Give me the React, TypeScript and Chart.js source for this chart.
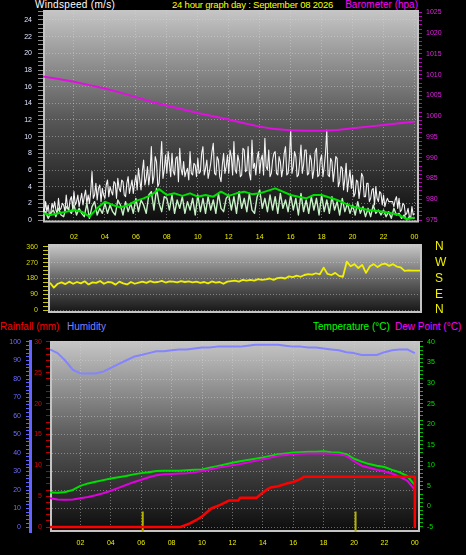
import React, { useEffect, useRef } from "react";
import { Chart, registerables } from "chart.js";

Chart.register(...registerables);

const FONT = "'Liberation Sans', Arial, sans-serif";

// ---------- X axis (hours of the day) ----------
const hourTicks = [2, 4, 6, 8, 10, 12, 14, 16, 18, 20, 22, 24];
const hourLabels = ["02", "04", "06", "08", "10", "12", "14", "16", "18", "20", "22", "00"];

// ---------- Wind gust (m/s), 5-minute samples from 00:00 ----------
const gustSampleHours = 1 / 12;
const windGust = [
  1.4, 0.8, 2.2, 1.0, 1.8, 0.6, 0.8, 2.0, 1.4, 2.2, 1.2, 0.8,
  2.6, 1.2, 1.4, 2.0, 1.8, 1.0, 3.0, 1.6, 1.2, 2.4, 2.8, 1.4,
  3.4, 1.8, 2.2, 3.0, 1.6, 2.4, 3.2, 1.8, 2.8, 3.6, 2.0, 3.0,
  2.0, 3.4, 5.8, 2.6, 3.0, 4.4, 2.4, 3.8, 4.2, 2.2, 3.8, 3.0,
  2.6, 4.2, 4.8, 2.8, 4.0, 3.4, 3.0, 4.6, 4.4, 2.6, 5.0, 3.8,
  3.4, 4.8, 4.6, 3.0, 2.8, 4.4, 5.2, 3.2, 4.0, 4.8, 3.2, 4.4,
  5.4, 3.6, 6.2, 4.8, 3.6, 5.8, 7.2, 4.2, 5.0, 6.4, 4.2, 5.6,
  8.8, 4.4, 5.2, 7.6, 7.0, 4.0, 4.4, 6.8, 9.4, 5.0, 6.0, 7.8,
  5.6, 8.2, 6.8, 5.2, 8.0, 5.8, 5.4, 7.4, 7.6, 4.6, 8.6, 6.2,
  5.4, 7.0, 5.2, 5.8, 6.2, 4.8, 8.2, 5.6, 5.4, 6.8, 6.6, 5.2,
  7.4, 5.6, 5.8, 8.0, 8.8, 5.4, 6.2, 7.2, 5.0, 5.8, 6.8, 8.2,
  9.2, 5.6, 5.4, 7.6, 7.2, 5.2, 4.6, 6.6, 8.0, 5.6, 6.4, 7.8,
  5.6, 8.4, 7.6, 5.4, 9.4, 6.0, 5.6, 7.8, 7.0, 5.2, 5.4, 8.6,
  8.4, 5.8, 6.0, 8.8, 5.6, 4.8, 9.6, 6.2, 6.8, 5.4, 7.4, 8.2,
  5.6, 7.2, 7.8, 5.4, 9.8, 6.4, 6.0, 8.4, 5.2, 5.6, 7.2, 8.0,
  8.2, 5.6, 5.4, 7.6, 7.0, 5.2, 6.2, 8.0, 8.8, 5.4, 5.6, 7.4,
  10.8, 5.6, 6.4, 8.2, 7.6, 5.2, 5.4, 7.0, 9.0, 5.6, 6.6, 8.4,
  8.4, 5.4, 5.6, 7.8, 7.2, 5.0, 6.0, 8.2, 8.6, 5.2, 5.4, 7.2,
  7.8, 5.2, 6.4, 8.0, 10.8, 5.4, 5.2, 7.4, 7.0, 4.6, 6.0, 7.6,
  7.4, 4.0, 4.6, 6.4, 6.2, 3.6, 5.0, 6.8, 3.4, 4.8, 6.0, 3.8,
  5.4, 2.8, 3.2, 4.8, 4.6, 2.6, 3.8, 5.6, 5.2, 2.8, 2.8, 4.4,
  4.4, 2.2, 2.6, 3.6, 3.8, 1.8, 4.0, 2.6, 2.2, 3.4, 3.2, 1.8,
  3.0, 1.6, 2.2, 2.6, 2.2, 2.2, 2.2, 2.2, 1.6, 2.4, 2.8, 1.4,
  2.6, 1.0, 1.2, 2.0, 1.8, 0.6, 0.8, 1.4, 0.4, 0.2, 1.6, 0.6,
  0.8,
];

// ---------- Wind speed (m/s), 10-minute samples ----------
const speedSampleHours = 1 / 6;
const windSpeed = [
  0.6, 1.0, 0.2, 0.8, 1.2, 0.4,
  1.4, 0.6, 0.4, 1.6, 1.2, 0.8,
  1.8, 0.6, 1.4, 0.8, 0.4, 2.0,
  0.2, 1.6, 2.2, 0.6, 1.4, 0.8,
  2.0, 0.8, 1.8, 1.0, 0.6, 2.4,
  1.8, 0.6, 2.2, 1.0, 2.0, 0.8,
  2.6, 1.0, 2.4, 1.8, 0.8, 3.0,
  3.4, 1.2, 3.8, 2.0, 1.0, 2.8,
  2.6, 1.2, 3.0, 0.8, 2.4, 1.4,
  2.8, 0.8, 2.2, 1.2, 2.6, 0.6,
  3.0, 1.0, 2.6, 0.8, 2.8, 1.2,
  2.4, 0.8, 3.2, 1.4, 1.0, 2.6,
  3.0, 1.2, 2.8, 0.8, 3.4, 1.4,
  2.6, 1.0, 3.2, 1.2, 0.8, 2.8,
  3.6, 1.4, 2.6, 1.0, 3.0, 1.2,
  2.8, 0.8, 3.2, 1.4, 2.4, 1.0,
  3.0, 1.2, 2.6, 0.6, 3.2, 1.0,
  2.4, 0.8, 2.8, 1.2, 2.6, 0.6,
  3.0, 1.0, 2.4, 0.8, 2.8, 1.2,
  2.2, 0.6, 2.6, 1.0, 2.0, 0.8,
  1.8, 0.6, 2.2, 0.8, 1.6, 0.4,
  1.4, 0.4, 1.8, 0.8, 1.2, 0.6,
  1.2, 0.4, 1.0, 0.2, 1.4, 0.6,
  0.8, 0.2, 0.6, 0.0, 0.4, 0.2,
  0.2,
];
// 30-minute average wind
const windAvgSampleHours = 0.5;
const windAvg = [
  0.8, 0.6, 0.8, 1.0, 1.2, 1.0, 0.4, 1.4, 2.2, 1.8, 1.5, 1.8,
  2.3, 2.6, 3.0, 3.7, 3.0, 3.2, 2.9, 3.2, 2.8, 3.0, 2.8, 3.4,
  2.9, 3.2, 3.4, 3.1, 3.2, 3.5, 3.8, 3.4, 3.0, 2.8, 2.6, 3.0,
  3.0, 2.7, 2.4, 2.0, 1.6, 1.4, 1.2, 1.1, 1.0, 0.8, 0.6, 0.1,
  0.3,
];

// ---------- Barometer (hPa), hourly ----------
const baroSampleHours = 1;
const barometer = [
  1009.6, 1009.0, 1008.3, 1007.5, 1006.7, 1005.7, 1004.6, 1003.5, 1002.6,
  1001.7, 1000.8, 1000.0, 999.2, 998.3, 997.5, 996.9, 996.6, 996.5, 996.5,
  996.7, 997.1, 997.5, 997.9, 998.3, 998.7,
];

// ---------- Wind direction (degrees), 15-minute samples ----------
const dirSampleHours = 0.25;
const windDirection = [
  156, 128, 150, 158, 148, 162, 150, 160, 152, 164, 146, 158,
  155, 166, 150, 160, 158, 145, 162, 152, 146, 160, 150, 156,
  162, 155, 165, 158, 160, 166, 157, 163, 162, 158, 165, 160,
  164, 158, 162, 155, 160, 152, 163, 157, 160, 150, 162, 165,
  168, 162, 172, 168, 172, 168, 176, 172, 175, 180, 172, 182,
  185, 180, 192, 188, 196, 190, 200, 205, 202, 210, 204, 242,
  206, 200, 212, 195, 190, 276, 250, 262, 240, 258, 212, 250,
  262, 245, 260, 265, 252, 262, 248, 244, 223, 226, 225, 225,
  225,
];
const compassLabels = ["N", "E", "S", "W", "N"];

// ---------- Temperature / dew point (°C), humidity (%), half-hourly ----------
const climateSampleHours = 0.5;
const temperature = [
  3.4, 3.3, 3.5, 4.0, 5.0, 5.6, 6.0, 6.4, 6.8, 7.1, 7.4, 7.8,
  8.1, 8.3, 8.6, 8.7, 8.7, 8.7, 8.8, 8.9, 9.0, 9.4, 9.8, 10.2,
  10.6, 11.0, 11.3, 11.6, 11.9, 12.3, 12.7, 12.9, 13.1, 13.2, 13.3, 13.3,
  13.4, 13.2, 13.1, 12.7, 11.6, 10.9, 10.3, 9.9, 9.6, 8.9, 8.3, 7.4,
  5.2,
];
const dewPoint = [
  2.0, 1.7, 1.6, 1.7, 2.0, 2.3, 2.7, 3.2, 3.8, 4.5, 5.2, 5.9,
  6.5, 7.1, 7.6, 7.8, 7.9, 8.0, 8.1, 8.3, 8.6, 9.0, 9.4, 9.7,
  10.0, 10.3, 10.7, 11.1, 11.5, 11.9, 12.3, 12.5, 12.7, 12.8, 12.9, 12.9,
  12.9, 12.8, 12.7, 12.3, 11.0, 9.9, 9.4, 8.9, 8.5, 8.0, 7.2, 6.3,
  4.0,
];
const humidity = [
  96, 94, 90, 85, 83, 83, 83, 84, 86, 88, 90, 92,
  93, 94, 95, 95, 95.5, 96, 96, 96.5, 97, 97, 97.5, 97.5,
  97.5, 97.5, 98, 98.5, 98.5, 98.5, 98.5, 98, 97.5, 97.5, 97, 97,
  96.5, 96, 95.5, 94.5, 94, 93, 93, 93, 94.5, 95.5, 96, 96,
  94,
];

// ---------- Rainfall (mm), accumulated ----------
const rainHours = [0, 8.6, 9.2, 9.6, 10.0, 10.6, 11.2, 11.8, 12.4, 12.5, 13.6, 14.0, 14.3, 14.5, 15.0, 15.5, 16.0, 16.3, 16.5, 16.7, 24, 24];
const rainfall = [0, 0, 0.6, 1.1, 1.7, 3.0, 3.6, 4.3, 4.3, 4.75, 4.75, 5.6, 6.1, 6.4, 6.6, 7.0, 7.3, 7.6, 7.8, 8.15, 8.15, 0];

// markers along the time axis (hours), height on the rain axis (mm)
const markerHours = [6.1, 20.1];
const markerHeight = 2.5;

// ---------- helpers ----------
const series = (vals: number[], step: number) => vals.map((y, i) => ({ x: i * step, y }));
const pairs = (xs: number[], ys: number[]) => xs.map((x, i) => ({ x, y: ys[i] }));
const isMult = (v: number, m: number) => Math.abs(v / m - Math.round(v / m)) < 1e-6;
const DOT = "rgba(215,215,215,0.45)";

function zeroPad(s: any) {
  s.paddingTop = 0;
  s.paddingBottom = 0;
  s.paddingLeft = 0;
  s.paddingRight = 0;
}

type AxisSpec = {
  position: "left" | "right";
  min: number;
  max: number;
  from: number;
  to: number;
  step: number;
  labelEvery: number;
  width: number;
  color: string;
  tickColor: string;
  tickLength: number;
  padding: number;
  grid?: string;
  gridEvery?: number;
  weight?: number;
  border?: { color: string; width: number };
  labelFn?: (v: number) => string;
  fontSize?: number;
  drawTicks?: boolean;
};

function yAxis(a: AxisSpec): any {
  return {
    type: "linear",
    position: a.position,
    min: a.min,
    max: a.max,
    weight: a.weight ?? 0,
    afterBuildTicks: (s: any) => {
      const t: any[] = [];
      for (let k = 0; a.from + k * a.step <= a.to + 1e-9; k++) {
        t.push({ value: +(a.from + k * a.step).toFixed(4) });
      }
      s.ticks = t;
    },
    afterFit: (s: any) => {
      s.width = a.width;
      zeroPad(s);
    },
    ticks: {
      autoSkip: false,
      color: a.color,
      padding: a.padding,
      font: { family: FONT, size: a.fontSize ?? 7 },
      callback: (v: number) =>
        isMult(v, a.labelEvery) ? (a.labelFn ? a.labelFn(v) : String(v)) : "",
    },
    grid: {
      drawOnChartArea: !!a.grid,
      drawTicks: a.drawTicks ?? true,
      tickLength: a.tickLength,
      tickColor: a.tickColor,
      tickWidth: 1,
      lineWidth: 1,
      color: (c: any) =>
        a.grid && c.tick && isMult(c.tick.value, a.gridEvery ?? a.labelEvery) ? a.grid : "rgba(0,0,0,0)",
    },
    border: a.border
      ? { display: true, color: a.border.color, width: a.border.width, dash: [1, 2] }
      : { display: false, dash: [1, 2] },
  };
}

function xAxis(min: number, max: number, height: number, pad: number, display = true): any {
  return {
    type: "linear",
    position: "bottom",
    display,
    min,
    max,
    afterBuildTicks: (s: any) => {
      s.ticks = hourTicks.map((v) => ({ value: v }));
    },
    afterFit: (s: any) => {
      s.height = height;
      zeroPad(s);
    },
    ticks: {
      autoSkip: false,
      maxRotation: 0,
      minRotation: 0,
      color: "#ecec00",
      padding: pad,
      font: { family: FONT, size: 7 },
      callback: (v: number) => {
        const i = hourTicks.indexOf(v);
        return i >= 0 ? hourLabels[i] : "";
      },
    },
    grid: { drawTicks: false, lineWidth: 1, color: DOT },
    border: { display: false, dash: [1, 2] },
  };
}

const panelBg = {
  id: "panelBg",
  beforeDraw(chart: any, _args: any, opts: any) {
    const { ctx, chartArea: a } = chart;
    const g = ctx.createLinearGradient(0, a.top, 0, a.bottom);
    (opts.stops as [number, string][]).forEach(([p, c]) => g.addColorStop(p, c));
    ctx.save();
    ctx.fillStyle = g;
    ctx.fillRect(a.left, a.top, a.right - a.left, a.bottom - a.top);
    ctx.restore();
  },
  beforeDatasetsDraw(chart: any, _args: any, opts: any) {
    const { ctx, chartArea: a } = chart;
    ctx.save();
    ctx.strokeStyle = opts.frame;
    ctx.lineWidth = 2;
    ctx.beginPath();
    ctx.moveTo(a.left + 1, a.top);
    ctx.lineTo(a.left + 1, a.bottom - 1);
    ctx.lineTo(a.right - 1, a.bottom - 1);
    ctx.lineTo(a.right - 1, a.top);
    ctx.stroke();
    ctx.restore();
  },
};

const BG_STOPS = [
  [0, "#c6c6c6"],
  [0.5, "#5a5a5a"],
  [1, "#0c0c0c"],
];

function baseOptions(padding: any, scales: any, stops = BG_STOPS): any {
  return {
    animation: false,
    responsive: false,
    maintainAspectRatio: false,
    devicePixelRatio: 1,
    events: [],
    layout: { padding },
    elements: { point: { radius: 0, hoverRadius: 0 }, line: { tension: 0, borderJoinStyle: "round" } },
    plugins: {
      legend: { display: false },
      tooltip: { enabled: false },
      panelBg: { stops, frame: "#c4c4c4" },
    },
    scales,
  };
}

function windConfig(): any {
  return {
    type: "line",
    data: {
      datasets: [
        { data: series(barometer, baroSampleHours), yAxisID: "baro", borderColor: "#e010e0", borderWidth: 2, order: 0 },
        { data: series(windAvg, windAvgSampleHours), yAxisID: "wind", borderColor: "#00e000", borderWidth: 2, order: 1 },
        { data: series(windSpeed, speedSampleHours), yAxisID: "wind", borderColor: "#c6f2c6", borderWidth: 1.4, order: 2 },
        { data: series(windGust, gustSampleHours), yAxisID: "wind", borderColor: "#f4f4f4", borderWidth: 1.1, order: 3 },
      ],
    },
    options: baseOptions({ top: 10, left: 0, right: 0, bottom: 0 }, {
      x: xAxis(0, 24.29, 22.5, 10),
      wind: yAxis({
        position: "left", min: -0.3, max: 25.2, from: 0, to: 25, step: 0.5, labelEvery: 2,
        width: 43, color: "#dfe6ff", tickColor: "#8c8c8c", tickLength: 5, padding: 6, grid: DOT, gridEvery: 2,
      }),
      baro: yAxis({
        position: "right", min: 974.4, max: 1025.6, from: 975, to: 1025, step: 1, labelEvery: 5,
        width: 47, color: "#e020e0", tickColor: "#c000c0", tickLength: 3, padding: 4,
      }),
    }),
    plugins: [panelBg],
  };
}

function directionConfig(): any {
  return {
    type: "line",
    data: {
      datasets: [
        { data: series(windDirection, dirSampleHours), yAxisID: "dir", borderColor: "#f0f000", borderWidth: 1.8 },
      ],
    },
    options: baseOptions({ top: 6, left: 0, right: 0, bottom: 5 }, {
      x: xAxis(-0.13, 24.13, 0, 0, false),
      dir: yAxis({
        position: "left", min: -17, max: 377, from: 0, to: 360, step: 22.5, labelEvery: 90,
        width: 48, color: "#d8d800", tickColor: "#c8c800", tickLength: 5, padding: 5, grid: DOT, gridEvery: 90,
      }),
      compass: yAxis({
        position: "right", min: -17, max: 377, from: 0, to: 360, step: 90, labelEvery: 90,
        width: 44, color: "#f0f000", tickColor: "rgba(0,0,0,0)", tickLength: 0, padding: 13,
        fontSize: 12, drawTicks: false, labelFn: (v) => compassLabels[Math.round(v / 90)],
      }),
    }, [[0, "#cacaca"], [0.5, "#666666"], [1, "#141414"]]),
    plugins: [panelBg],
  };
}

function climateConfig(): any {
  const rainMin = -0.81;
  const markerData = markerHours.flatMap((h) => [
    { x: h, y: rainMin },
    { x: h, y: markerHeight },
    { x: h, y: null },
  ]);
  return {
    type: "line",
    data: {
      datasets: [
        { data: pairs(rainHours, rainfall), yAxisID: "rain", borderColor: "#ff0000", borderWidth: 2.5, order: 0 },
        { data: series(dewPoint, climateSampleHours), yAxisID: "temp", borderColor: "#e000e0", borderWidth: 2, order: 1 },
        { data: series(temperature, climateSampleHours), yAxisID: "temp", borderColor: "#00e000", borderWidth: 2, order: 2 },
        { data: series(humidity, climateSampleHours), yAxisID: "hum", borderColor: "#8484ff", borderWidth: 2, order: 3 },
        { data: markerData, yAxisID: "rain", borderColor: "#b4b400", borderWidth: 2, order: 4 },
      ],
    },
    options: baseOptions({ top: 6, left: 0, right: 0, bottom: 0 }, {
      x: xAxis(0, 24.34, 23, 6.5),
      hum: yAxis({
        position: "left", weight: 1, min: -2.7, max: 100.54, from: 0, to: 100, step: 2, labelEvery: 10,
        width: 30, color: "#6c6cff", tickColor: "#6060ff", tickLength: 4, padding: 5, grid: DOT, gridEvery: 10,
        border: { color: "#6464ff", width: 3 },
      }),
      rain: yAxis({
        position: "left", weight: 0, min: rainMin, max: 30.16, from: 0, to: 30, step: 1, labelEvery: 5,
        width: 20, color: "#e00000", tickColor: "#c00000", tickLength: 4, padding: 4,
      }),
      temp: yAxis({
        position: "right", min: -6.22, max: 40.24, from: -5, to: 40, step: 1, labelEvery: 5,
        width: 46, color: "#00e000", tickColor: "#00c000", tickLength: 3, padding: 4,
      }),
    }),
    plugins: [panelBg],
  };
}

function Panel({ top, height, build }: { top: number; height: number; build: () => any }) {
  const ref = useRef<HTMLCanvasElement>(null);
  useEffect(() => {
    const chart = new Chart(ref.current as HTMLCanvasElement, build());
    return () => chart.destroy();
  }, []);
  return (
    <canvas
      ref={ref}
      width={466}
      height={height}
      style={{ position: "absolute", left: 0, top, width: 466, height, display: "block" }}
    />
  );
}

const textBase: React.CSSProperties = {
  position: "absolute",
  fontFamily: FONT,
  fontSize: 10,
  lineHeight: "10px",
  whiteSpace: "nowrap",
};

export default function App() {
  useEffect(() => {
    document.body.style.margin = "0";
    document.body.style.background = "#000";
  }, []);
  return (
    <div style={{ position: "relative", width: 466, height: 555, background: "#000", overflow: "hidden" }}>
      <span style={{ ...textBase, left: 35, top: 0, color: "#ffffff", letterSpacing: 0.3 }}>Windspeed (m/s)</span>
      <span style={{ ...textBase, left: 172, top: 0, color: "#ffff00", fontSize: 9.5, letterSpacing: -0.2 }}>
        24 hour graph day : September 08 2026
      </span>
      <span style={{ ...textBase, right: 48, top: 0, color: "#ff00ff" }}>Barometer (hpa)</span>

      <span style={{ ...textBase, left: 0, top: 322, color: "#ff0000" }}>Rainfall (mm)</span>
      <span style={{ ...textBase, left: 67, top: 322, color: "#8080ff" }}>Humidity</span>
      <span style={{ ...textBase, left: 313, top: 322, color: "#00ff00" }}>Temperature (°C)</span>
      <span style={{ ...textBase, left: 395, top: 322, color: "#ff00ff" }}>Dew Point (°C)</span>

      <Panel top={0} height={245} build={windConfig} />
      <Panel top={238} height={80} build={directionConfig} />
      <Panel top={335} height={220} build={climateConfig} />
    </div>
  );
}
